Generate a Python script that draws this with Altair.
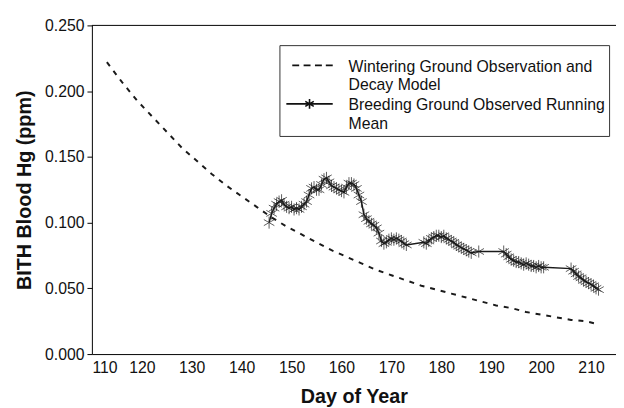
import altair as alt
import pandas as pd

# Wintering ground observation and decay model (dashed)
decay_day = [113, 116, 119, 122, 125, 128, 131, 134, 137, 140, 143, 146, 149, 152,
             155, 158, 161, 164, 167, 170, 173, 176, 179, 182, 185, 188, 191, 194,
             197, 200, 203, 206, 209, 211]
decay_hg = [0.222, 0.207, 0.193, 0.181, 0.169, 0.157, 0.147, 0.137, 0.128, 0.120,
            0.112, 0.104, 0.097, 0.091, 0.085, 0.079, 0.074, 0.069, 0.064, 0.060,
            0.056, 0.052, 0.049, 0.046, 0.043, 0.040, 0.037, 0.035, 0.032, 0.030,
            0.028, 0.026, 0.025, 0.023]

# Breeding ground observed running mean (line with asterisks)
breed_day = [145.5, 146.0, 146.5, 147.0, 147.5, 148.0, 148.5, 149.0, 149.5, 150.0,
             150.5, 151.0, 151.5, 152.0, 152.5, 153.0, 153.5, 154.0, 154.5, 155.0,
             155.5, 156.0, 156.5, 157.0, 157.5, 158.0, 158.5, 159.0, 159.5, 160.0,
             160.5, 161.0, 161.5, 162.0, 162.5, 163.0, 163.5, 164.0, 164.5, 165.0,
             165.5, 166.0, 166.5, 167.0, 167.5, 168.0, 168.5, 169.0, 169.5, 170.0,
             170.5, 171.0, 171.5, 172.0, 172.5, 173.0, 176.5, 177.0, 177.5, 178.0,
             178.5, 179.0, 179.5, 180.0, 180.5, 181.0, 181.5, 182.0, 182.5, 183.0,
             183.5, 184.0, 184.5, 185.0, 185.5, 186.0, 187.5, 192.5, 193.0, 193.5,
             194.0, 194.5, 195.0, 195.5, 196.0, 196.5, 197.0, 197.5, 198.0, 198.5,
             199.0, 199.5, 200.0, 200.5, 206.0, 206.5, 207.0, 207.5, 208.0, 208.5,
             209.0, 209.5, 210.0, 210.5, 211.0, 211.5]
breed_hg = [0.100, 0.107, 0.111, 0.114, 0.116, 0.117, 0.114, 0.112, 0.111, 0.112,
            0.110, 0.111, 0.110, 0.112, 0.114, 0.116, 0.121, 0.126, 0.127, 0.125,
            0.125, 0.129, 0.133, 0.134, 0.131, 0.128, 0.127, 0.126, 0.125, 0.124,
            0.123, 0.127, 0.130, 0.130, 0.129, 0.126, 0.121, 0.116, 0.106, 0.103,
            0.101, 0.099, 0.098, 0.096, 0.092, 0.086, 0.084, 0.085, 0.087, 0.088,
            0.087, 0.088, 0.087, 0.086, 0.084, 0.083, 0.085, 0.084, 0.086, 0.088,
            0.089, 0.090, 0.090, 0.089, 0.090, 0.088, 0.087, 0.086, 0.085, 0.083,
            0.082, 0.081, 0.080, 0.079, 0.078, 0.077, 0.078, 0.078, 0.076, 0.074,
            0.072, 0.071, 0.070, 0.070, 0.069, 0.068, 0.069, 0.068, 0.067, 0.067,
            0.066, 0.067, 0.066, 0.066, 0.065, 0.063, 0.061, 0.059, 0.058, 0.056,
            0.055, 0.054, 0.053, 0.052, 0.050, 0.049]

# legend text, one entry per printed line
legend_lines = ["Wintering Ground Observation and", "Decay Model",
                "Breeding Ground Observed Running", "Mean"]
x_ticks = [110, 120, 130, 140, 150, 160, 170, 180, 190, 200, 210]
y_ticks = [0.0, 0.05, 0.10, 0.15, 0.20, 0.25]
y_top = [0.25]

decay_df = pd.DataFrame({"day": decay_day, "hg": decay_hg})
breed_df = pd.DataFrame({"day": breed_day, "hg": breed_hg})
legend_df = pd.DataFrame({"day": [decay_day[0]] * 4,
                          "hg": [decay_hg[0]] * 4,
                          "series": legend_lines})
top_df = pd.DataFrame({"hg": y_top})

FONT = "Liberation Sans"
ASTERISK = "M0,-1L0,1M-0.87,-0.5L0.87,0.5M-0.87,0.5L0.87,-0.5"
# legend glyphs (symbolSize=4 -> one path unit = one pixel)
LEG_DASH = "M1,-1.5L8,-1.5M12.5,-1.5L19.5,-1.5M24,-1.5L31,-1.5M35,-1.5L42,-1.5"
LEG_STAR = ("M-5,-1.5L42,-1.5M18.5,-6.5L18.5,3.5M14.2,-4L22.8,1"
            "M14.2,1L22.8,-4")
LEG_NONE = "M0,0L0,0"

x_enc = alt.X("day:Q", scale=alt.Scale(domain=[110, 215], nice=False, zero=False),
              axis=alt.Axis(title="Day of Year", values=x_ticks, format="d",
                            ticks=False, labelPadding=6, titlePadding=11))
y_enc = alt.Y("hg:Q", scale=alt.Scale(domain=[0, 0.25], nice=False),
              axis=alt.Axis(title="BITH Blood Hg (ppm)", values=y_ticks,
                            format=".3f", tickSize=5, labelPadding=3,
                            titlePadding=10))

top_line = alt.Chart(top_df).mark_rule(color="black", strokeWidth=1).encode(
    y=alt.Y("hg:Q"))

decay = alt.Chart(decay_df).mark_line(
    color="#1a1a1a", strokeWidth=2, strokeDash=[5, 6]
).encode(x=x_enc, y=y_enc)

breed_line = alt.Chart(breed_df).mark_line(
    color="#1a1a1a", strokeWidth=1.5
).encode(x="day:Q", y="hg:Q")

breed_pts = alt.Chart(breed_df).mark_point(
    shape=ASTERISK, size=150, filled=False, color="#1a1a1a", strokeWidth=1
).encode(x="day:Q", y="hg:Q")

legend_layer = alt.Chart(legend_df).mark_point(opacity=0, filled=False).encode(
    x="day:Q", y="hg:Q",
    shape=alt.Shape("series:N",
                    scale=alt.Scale(domain=legend_lines,
                                    range=[LEG_DASH, LEG_NONE, LEG_STAR, LEG_NONE]),
                    legend=alt.Legend(
                        title=" ", titleFontSize=10, titlePadding=0,
                        orient="none", legendX=190, legendY=20,
                        labelFont=FONT, labelFontSize=16, labelColor="#111",
                        labelLimit=400, labelOffset=50, labelBaseline="middle",
                        symbolSize=4, symbolOpacity=1, symbolStrokeColor="#111",
                        symbolStrokeWidth=1.6, symbolFillColor="transparent",
                        strokeColor="#333", padding=4, rowPadding=2.5,
                        fillColor="white"))
)

chart = alt.layer(decay, top_line, breed_line, breed_pts, legend_layer).properties(
    width=531, height=333,
    autosize=alt.AutoSizeParams(type="none"),
    padding={"left": 85, "top": 15, "right": 0, "bottom": 52},
).configure_view(
    stroke=None
).configure_axis(
    grid=False, domainColor="black", tickColor="black", labelColor="#111",
    labelFont=FONT, labelFontSize=16, titleFont=FONT, titleFontSize=20,
    titleFontWeight="bold", titleColor="#111"
)

chart.save("out.html", embed_options={"renderer": "svg", "actions": False})
